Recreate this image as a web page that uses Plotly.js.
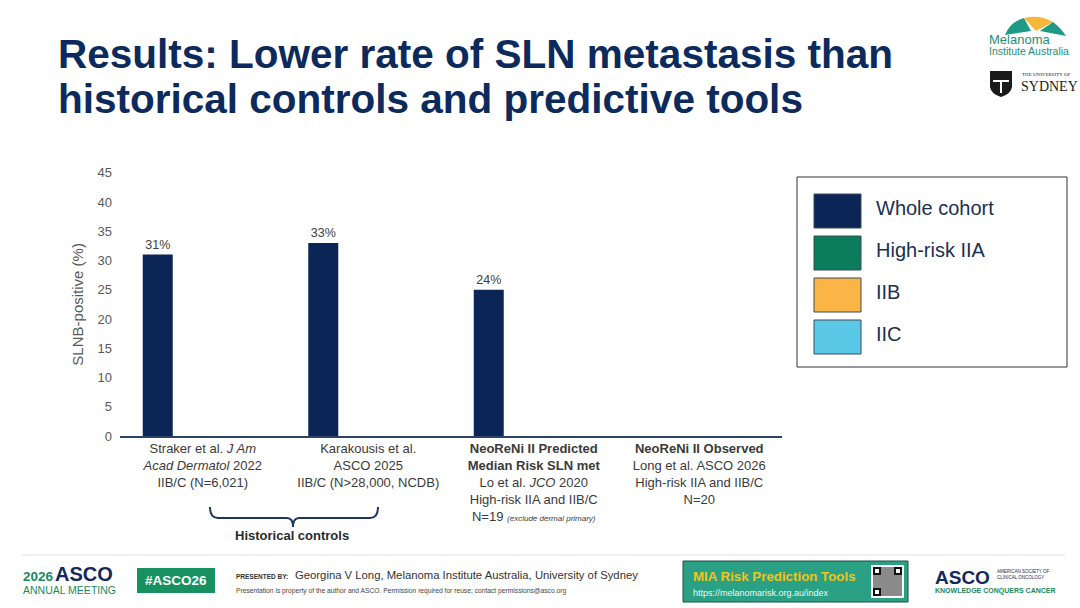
<!DOCTYPE html>
<html>
<head>
<meta charset="utf-8">
<script src="https://cdn.plot.ly/plotly-3.0.1.min.js"></script>
<style>
  html, body { margin: 0; padding: 0; background: #fff; }
  #chart { width: 1080px; height: 608px; }
</style>
</head>
<body>
<div id="chart"></div>
<script>
// data
var categories = ['Straker', 'Karakousis', 'Predicted', 'Observed'];
var tickLabels = [
  'Straker et al. <i>J Am</i><br><i>Acad Dermatol</i> 2022<br>IIB/C (N=6,021)',
  'Karakousis et al.<br>ASCO 2025<br>IIB/C (N&gt;28,000, NCDB)',
  '<b>NeoReNi II Predicted</b><br><b>Median Risk SLN met</b><br>Lo et al. <i>JCO</i> 2020<br>High-risk IIA and IIB/C<br>N=19 <span style="font-size:8px"><i>(exclude dermal primary)</i></span>',
  '<b>NeoReNi II Observed</b><br>Long et al. ASCO 2026<br>High-risk IIA and IIB/C<br>N=20'
];
var seriesNames = ['Whole cohort', 'High-risk IIA', 'IIB', 'IIC'];
var seriesColors = ['#0c2557', '#0b7d5b', '#fbb446', '#5ac8e6'];
var wholeCohort = [31, 33, 25, null];
var wholeCohortLabels = ['31%', '33%', '24%', ''];
var highRiskIIA = [null, null, null, null];
var stageIIB = [null, null, null, null];
var stageIIC = [null, null, null, null];
var seriesValues = [wholeCohort, highRiskIIA, stageIIB, stageIIC];
var seriesLabels = [wholeCohortLabels, null, null, null];

var W = 1080, H = 608;
var FONT = 'Liberation Sans, Arial, sans-serif';
var NAVY = '#0c2a5b';

// pixel -> paper helpers for the slide decoration
function px(x) { return x / W; }
function py(y) { return 1 - y / H; }
function path(cmds) {
  return cmds.map(function (c) {
    if (typeof c === 'string') return c;
    return px(c[0]).toFixed(5) + ',' + py(c[1]).toFixed(5);
  }).join(' ');
}

var data = seriesNames.map(function (name, i) {
  var t = {
    type: 'bar',
    name: name,
    x: categories,
    y: seriesValues[i],
    marker: { color: seriesColors[i] },
    showlegend: false,
    hoverinfo: 'none'
  };
  if (seriesLabels[i]) {
    t.text = seriesLabels[i];
    t.texttemplate = '%{text}';
    t.textposition = 'outside';
    t.cliponaxis = false;
    t.textfont = { family: FONT, size: 12.5, color: '#404040' };
  }
  return t;
});

var shapes = [];
var annotations = [];

function text(x, y, s, size, color, opts) {
  opts = opts || {};
  annotations.push({
    xref: 'paper', yref: 'paper', x: px(x), y: py(y),
    xanchor: opts.xanchor || 'left', yanchor: 'middle',
    text: s, showarrow: false, align: opts.align || 'left',
    font: { family: opts.family || FONT, size: size, color: color }
  });
}
function rect(x0, y0, x1, y1, fill, line, lw) {
  shapes.push({
    type: 'rect', xref: 'paper', yref: 'paper', layer: 'above',
    x0: px(x0), x1: px(x1), y0: py(y1), y1: py(y0),
    fillcolor: fill, line: { color: line || fill, width: lw === undefined ? 0 : lw }
  });
}

// title
text(56, 54, '<b>Results: Lower rate of SLN metastasis than</b>', 40.5, NAVY);
text(56, 99, '<b>historical controls and predictive tools</b>', 40.5, NAVY);

// legend box drawn like the slide's
rect(797, 177, 1067, 367, 'rgba(0,0,0,0)', '#333333', 1);
var legendRows = [211, 253, 295, 337];
seriesNames.forEach(function (name, i) {
  rect(814, legendRows[i] - 17, 861, legendRows[i] + 17, seriesColors[i], '#3a4a5a', 1);
  text(874, legendRows[i] - 3, name, 20, '#1b2f52');
});

// brace under historical controls
shapes.push({
  type: 'path', xref: 'paper', yref: 'paper',
  path: path(['M', [210, 507], 'Q', [210, 518], [218, 518], 'L', [287, 518],
              'Q', [293, 518], [293, 527], 'Q', [293, 518], [299, 518],
              'L', [370, 518], 'Q', [378, 518], [378, 507]]),
  line: { color: '#1f3561', width: 2 }
});
text(292, 535, '<b>Historical controls</b>', 13, '#2b2b2b', { xanchor: 'center' });

// footer
shapes.push({ type: 'line', xref: 'paper', yref: 'paper', x0: px(22), x1: px(1065), y0: py(555), y1: py(555),
  line: { color: '#e2e2e2', width: 1 } });
text(21, 576, '<b>2026</b>', 13.5, '#1a8a5c');
text(53, 574, '<b>ASCO</b>', 20, '#14285a');
text(21, 590, 'ANNUAL MEETING', 10.5, '#1a8a5c');
rect(137, 568, 215, 593, '#17925f');
text(176, 580, '<b>#ASCO26</b>', 13.5, '#ffffff', { xanchor: 'center' });
text(234, 576, '<b>PRESENTED BY:</b>', 6.5, '#333333');
text(293, 575, 'Georgina V Long, Melanoma Institute Australia, University of Sydney', 11.3, '#333333');
text(234, 591, 'Presentation is property of the author and ASCO. Permission required for reuse; contact permissions@asco.org', 6.7, '#444444');

rect(683, 561, 908, 602, '#2aa184', '#1c4f44', 1);
text(691, 576, '<b>MIA Risk Prediction Tools</b>', 13.3, '#f2c417');
text(691, 593, 'https://melanomarisk.org.au/index', 9, '#f4f4f4');
// QR code block
rect(871, 565, 904, 598, '#ffffff');
rect(873, 567, 902, 596, '#8a8a8a');
[[873, 567], [894, 567], [873, 588]].forEach(function (p) {
  rect(p[0], p[1], p[0] + 8, p[1] + 8, '#111111');
  rect(p[0] + 2, p[1] + 2, p[0] + 6, p[1] + 6, '#ffffff');
});

text(933, 577, '<b>ASCO</b>', 19, '#14285a');
text(995, 574, 'AMERICAN SOCIETY OF<br>CLINICAL ONCOLOGY', 4.5, '#14285a');
text(933, 591, '<b>KNOWLEDGE CONQUERS CANCER</b>', 7, '#1a8a5c');

// top-right logos
shapes.push({ type: 'path', xref: 'paper', yref: 'paper', fillcolor: '#1f9a86', line: { width: 0 },
  path: path(['M', [1005, 35], 'Q', [1010, 22], [1024, 18], 'L', [1031, 31], 'Z']) });
shapes.push({ type: 'path', xref: 'paper', yref: 'paper', fillcolor: '#f6b73c', line: { width: 0 },
  path: path(['M', [1024, 18], 'Q', [1040, 14], [1053, 22], 'L', [1036, 31], 'Z']) });
shapes.push({ type: 'path', xref: 'paper', yref: 'paper', fillcolor: '#1f9a86', line: { width: 0 },
  path: path(['M', [1053, 22], 'Q', [1061, 28], [1066, 36], 'L', [1040, 31], 'Z']) });
text(987, 39, 'Melanoma', 13, '#1f8e7a');
text(987, 51, 'Institute Australia', 10.5, '#1f8e7a');

shapes.push({ type: 'path', xref: 'paper', yref: 'paper', fillcolor: '#1a1a1a', line: { width: 0 },
  path: path(['M', [990, 71], 'L', [1012, 71], 'L', [1012, 87], 'Q', [1011, 94], [1001, 97],
              'Q', [991, 94], [990, 87], 'Z']) });
rect(993, 80, 1009, 82, '#ffffff');
rect(1000, 82, 1002, 93, '#ffffff');
text(1020, 75, 'THE UNIVERSITY OF', 5, '#222222', { family: 'Liberation Serif, serif' });
text(1019, 86, 'SYDNEY', 14, '#222222', { family: 'Liberation Serif, serif' });

var layout = {
  width: W, height: H,
  margin: { l: 0, r: 0, t: 0, b: 0 },
  paper_bgcolor: '#ffffff', plot_bgcolor: '#ffffff',
  barmode: 'group', bargap: 0.275, bargroupgap: 0,
  font: { family: FONT, color: '#404040' },
  showlegend: false,
  xaxis: {
    domain: [120 / W, 782 / W],
    type: 'category',
    tickvals: categories, ticktext: tickLabels,
    tickfont: { family: FONT, size: 13, color: '#3a3a3a' },
    showline: true, linecolor: '#2c4368', linewidth: 1.5,
    ticks: '', showgrid: false, zeroline: false, fixedrange: true
  },
  yaxis: {
    domain: [1 - 436 / H, 1 - 172.7 / H],
    range: [0, 45], dtick: 5, tick0: 0,
    showgrid: false, zeroline: false, showline: false, ticks: '',
    ticklabelstandoff: 7,
    tickfont: { family: FONT, size: 13, color: '#595959' },
    title: { text: 'SLNB-positive (%)', standoff: 10, font: { family: FONT, size: 15, color: '#595959' } },
    fixedrange: true
  },
  shapes: shapes,
  annotations: annotations
};

Plotly.newPlot('chart', data, layout, { displayModeBar: false, staticPlot: true });
</script>
</body>
</html>
